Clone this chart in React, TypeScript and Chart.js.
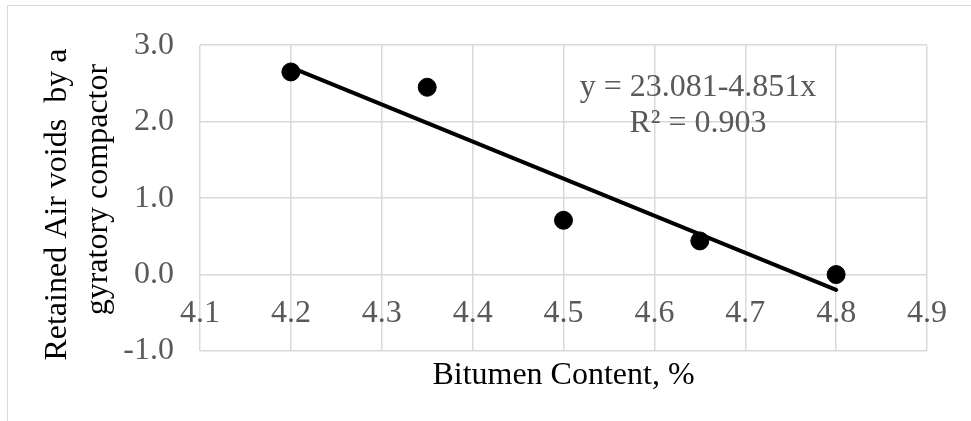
import React, { useEffect, useRef } from "react";
import { Chart, registerables } from "chart.js";

Chart.register(...registerables);

// ---- data ----
const bitumenContent = [4.2, 4.35, 4.5, 4.65, 4.8];
const retainedAirVoids = [2.65, 2.45, 0.71, 0.44, 0.0];
const trendX = [4.2, 4.8];
const trendY = [2.71, -0.2];
const xTicks = [4.1, 4.2, 4.3, 4.4, 4.5, 4.6, 4.7, 4.8, 4.9];
const yTicks = [-1, 0, 1, 2, 3];
const xTitle = "Bitumen Content, %";
const yTitle = ["Retained Air voids  by a", "gyratory compactor"];
const equationLines = ["y = 23.081-4.851x", "R\u00B2 = 0.903"];

const FONT = "'Liberation Serif', 'Times New Roman', serif";
const FS = 32;
const GRID = "#d9d9d9";
const TICK = "#595959";

const equationPlugin = {
  id: "equationLabel",
  afterDatasetsDraw(chart: any) {
    const { ctx, scales } = chart;
    const x = scales.x.getPixelForValue(4.648);
    const ys = [2.45, 1.98].map((v) => scales.y.getPixelForValue(v));
    ctx.save();
    ctx.font = `${FS}px ${FONT}`;
    ctx.fillStyle = TICK;
    ctx.textAlign = "center";
    ctx.textBaseline = "middle";
    equationLines.forEach((t, i) => ctx.fillText(t, x, ys[i]));
    ctx.restore();
  },
};

// y-axis title, two lines each centred on its own position (as in the reference)
const yTitlePlugin = {
  id: "yTitleLines",
  afterDraw(chart: any) {
    const { ctx, chartArea } = chart;
    const cy = (chartArea.top + chartArea.bottom) / 2;
    const xs = [chartArea.left - 142, chartArea.left - 101];
    const dys = [6.5, -8.5];
    ctx.save();
    ctx.font = `${FS}px ${FONT}`;
    ctx.fillStyle = "#000";
    ctx.textAlign = "center";
    ctx.textBaseline = "middle";
    yTitle.forEach((t, i) => {
      ctx.save();
      ctx.translate(xs[i], cy + dys[i]);
      ctx.rotate(-Math.PI / 2);
      ctx.fillText(t, 0, 0);
      ctx.restore();
    });
    ctx.restore();
  },
};

export default function App() {
  const ref = useRef<HTMLCanvasElement | null>(null);

  useEffect(() => {
    if (!ref.current) return;
    const chart = new Chart(ref.current, {
      type: "scatter",
      data: {
        datasets: [
          {
            type: "line",
            label: "Trend",
            data: trendX.map((x, i) => ({ x, y: trendY[i] })),
            borderColor: "#000",
            borderWidth: 4,
            borderCapStyle: "round",
            pointRadius: 0,
            fill: false,
            order: 2,
          } as any,
          {
            label: "Retained air voids",
            data: bitumenContent.map((x, i) => ({ x, y: retainedAirVoids[i] })),
            backgroundColor: "#000",
            borderColor: "#000",
            pointRadius: 9,
            pointHoverRadius: 9,
            order: 1,
          },
        ],
      },
      options: {
        responsive: false,
        animation: false,
        devicePixelRatio: 1,
        layout: { padding: { left: 0, top: 36, right: 44, bottom: 0 } },
        plugins: {
          legend: { display: false },
          tooltip: { enabled: false },
        },
        scales: {
          x: {
            type: "linear",
            position: { y: 0 } as any,
            min: 4.1,
            max: 4.9,
            afterBuildTicks: (s: any) => {
              s.ticks = xTicks.map((v) => ({ value: v }));
            },
            grid: { color: GRID, lineWidth: 1.5, drawTicks: false },
            border: { display: false },
            ticks: {
              padding: 20,
              color: TICK,
              font: { family: FONT, size: FS },
              maxRotation: 0,
              autoSkip: false,
              callback: (v: any) => Number(v).toFixed(1),
            },
          },
          xt: {
            type: "linear",
            position: "bottom",
            display: true,
            min: 4.1,
            max: 4.9,
            grid: { display: false, drawTicks: false },
            border: { display: false },
            ticks: { display: false },
            afterFit: (s: any) => {
              s.height = 70;
            },
            title: {
              display: true,
              text: xTitle,
              color: "#000",
              font: { family: FONT, size: FS },
              padding: { top: 0, bottom: 26 },
            },
          },
          y: {
            type: "linear",
            position: "left",
            min: -1,
            max: 3,
            afterBuildTicks: (s: any) => {
              s.ticks = yTicks.map((v) => ({ value: v }));
            },
            afterFit: (s: any) => {
              s.width = 200;
            },
            grid: { color: GRID, lineWidth: 1.5, drawTicks: false },
            border: { display: false },
            ticks: {
              padding: 26,
              color: TICK,
              font: { family: FONT, size: FS },
              callback: (v: any) => Number(v).toFixed(1),
            },
            title: { display: false },
          },
        },
      } as any,
      plugins: [equationPlugin, yTitlePlugin],
    });
    return () => chart.destroy();
  }, []);

  return (
    <div
      style={{
        position: "absolute",
        left: 0,
        top: 0,
        width: 971,
        height: 421,
        overflow: "hidden",
        background: "#fff",
      }}
    >
      <div
        style={{
          position: "absolute",
          left: 7,
          top: 5,
          width: 964,
          height: 416,
          borderTop: "1px solid #d9d9d9",
          borderLeft: "1px solid #d9d9d9",
          boxSizing: "border-box",
        }}
      />
      <canvas
        ref={ref}
        width={971}
        height={421}
        style={{ position: "absolute", left: 0, top: 0, width: 971, height: 421 }}
      />
    </div>
  );
}
